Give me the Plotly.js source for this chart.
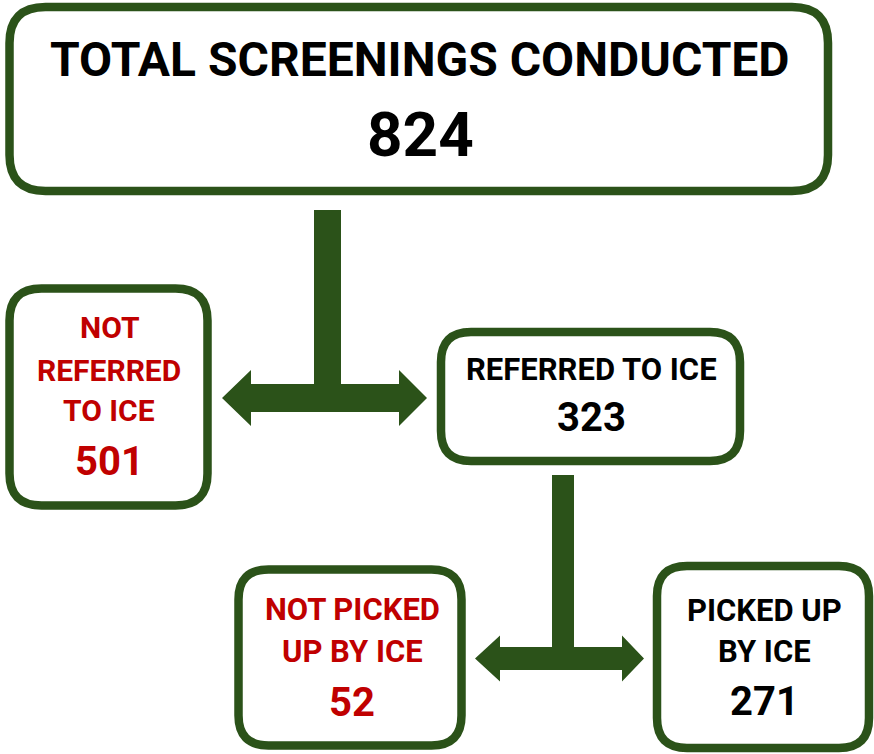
<!DOCTYPE html>
<html><head><meta charset="utf-8">
<script src="https://cdn.plot.ly/plotly-3.0.1.min.js"></script>
<style>html,body{margin:0;padding:0;background:#fff}#chart{width:874px;height:754px}</style>
</head><body><div id="chart"></div>
<script>
// ---- data ----
const nodeLabels = [
  ["TOTAL SCREENINGS CONDUCTED"],
  ["NOT", "REFERRED", "TO ICE"],
  ["REFERRED TO ICE"],
  ["NOT PICKED", "UP BY ICE"],
  ["PICKED UP", "BY ICE"]
];
const nodeValues = [824, 501, 323, 52, 271];
const nodeKinds = ["total", "no", "yes", "no", "yes"];

// ---- styles ----
const GREEN = "#2B5219";
const kindColor = {total: "#000000", yes: "#000000", no: "#C00000"};
const FONT = "Roboto, 'Liberation Sans', Arial, sans-serif";

// ---- layout geometry (pixels, y downward) ----
const boxes = [
  {x0: 9.5, y0: 7,   x1: 828,   y1: 191,   r: 36, cx: 420, lineY: [59.5], numY: 134.5, lineSize: 48, numSize: 62},
  {x0: 9.5, y0: 288.5, x1: 207.5, y1: 505.5, r: 32, cx: 109, lineY: [327.5, 370, 410.5], numY: 461, lineSize: 30, numSize: 40},
  {x0: 441, y0: 332, x1: 740,   y1: 461,   r: 30, cx: 591, lineY: [369], numY: 417.5, lineSize: 31, numSize: 40},
  {x0: 238.5, y0: 569.5, x1: 461.5, y1: 745.5, r: 30, cx: 352, lineY: [609, 651.5], numY: 702, lineSize: 31, numSize: 40},
  {x0: 657, y0: 566, x1: 869,   y1: 748,   r: 30, cx: 764, lineY: [610, 651.5], numY: 701, lineSize: 31, numSize: 40}
];
const connectors = [
  {bx0: 314, bx1: 341, top: 210, sy0: 384, sy1: 412, lb: 251, lt: 222, rb: 399, rt: 427, h: 28},
  {bx0: 552, bx1: 574, top: 475, sy0: 647, sy1: 670, lb: 500, lt: 475, rb: 622, rt: 644, h: 23}
];

function rr(b) {
  const {x0, y0, x1, y1, r} = b;
  return `M${x0+r},${y0} L${x1-r},${y0} Q${x1},${y0} ${x1},${y0+r} L${x1},${y1-r} Q${x1},${y1} ${x1-r},${y1} ` +
         `L${x0+r},${y1} Q${x0},${y1} ${x0},${y1-r} L${x0},${y0+r} Q${x0},${y0} ${x0+r},${y0} Z`;
}
function tee(c) {
  const cy = (c.sy0 + c.sy1) / 2;
  const pts = [[c.bx0, c.top], [c.bx1, c.top], [c.bx1, c.sy0], [c.rb, c.sy0], [c.rb, cy - c.h], [c.rt, cy],
    [c.rb, cy + c.h], [c.rb, c.sy1], [c.lb, c.sy1], [c.lb, cy + c.h], [c.lt, cy], [c.lb, cy - c.h],
    [c.lb, c.sy0], [c.bx0, c.sy0]];
  return "M" + pts.map(p => p[0] + "," + p[1]).join(" L") + " Z";
}

const shapes = [];
connectors.forEach(c => shapes.push({type: "path", xref: "x", yref: "y", path: tee(c),
  fillcolor: GREEN, line: {width: 0}, layer: "above"}));
boxes.forEach(b => shapes.push({type: "path", xref: "x", yref: "y", path: rr(b),
  fillcolor: "#ffffff", line: {color: GREEN, width: 8.5}, layer: "above"}));

const annotations = [];
nodeLabels.forEach((lines, i) => {
  const b = boxes[i];
  const col = kindColor[nodeKinds[i]];
  lines.forEach((t, j) => annotations.push({
    x: b.cx, y: b.lineY[j], xref: "x", yref: "y", text: t, showarrow: false,
    xanchor: "center", yanchor: "middle",
    font: {family: FONT, size: b.lineSize, color: col, weight: 700}
  }));
  annotations.push({
    x: b.cx, y: b.numY, xref: "x", yref: "y", text: String(nodeValues[i]), showarrow: false,
    xanchor: "center", yanchor: "middle",
    font: {family: FONT, size: b.numSize, color: col, weight: 700}
  });
});

const layout = {
  width: 874, height: 754,
  margin: {l: 0, r: 0, t: 0, b: 0},
  paper_bgcolor: "#ffffff", plot_bgcolor: "#ffffff",
  xaxis: {range: [0, 874], visible: false, fixedrange: true},
  yaxis: {range: [754, 0], visible: false, fixedrange: true},
  shapes: shapes,
  annotations: annotations,
  showlegend: false
};
Plotly.newPlot("chart", [{x: [], y: [], type: "scatter", mode: "markers", hoverinfo: "skip"}], layout,
  {displayModeBar: false, staticPlot: true});
</script></body></html>
